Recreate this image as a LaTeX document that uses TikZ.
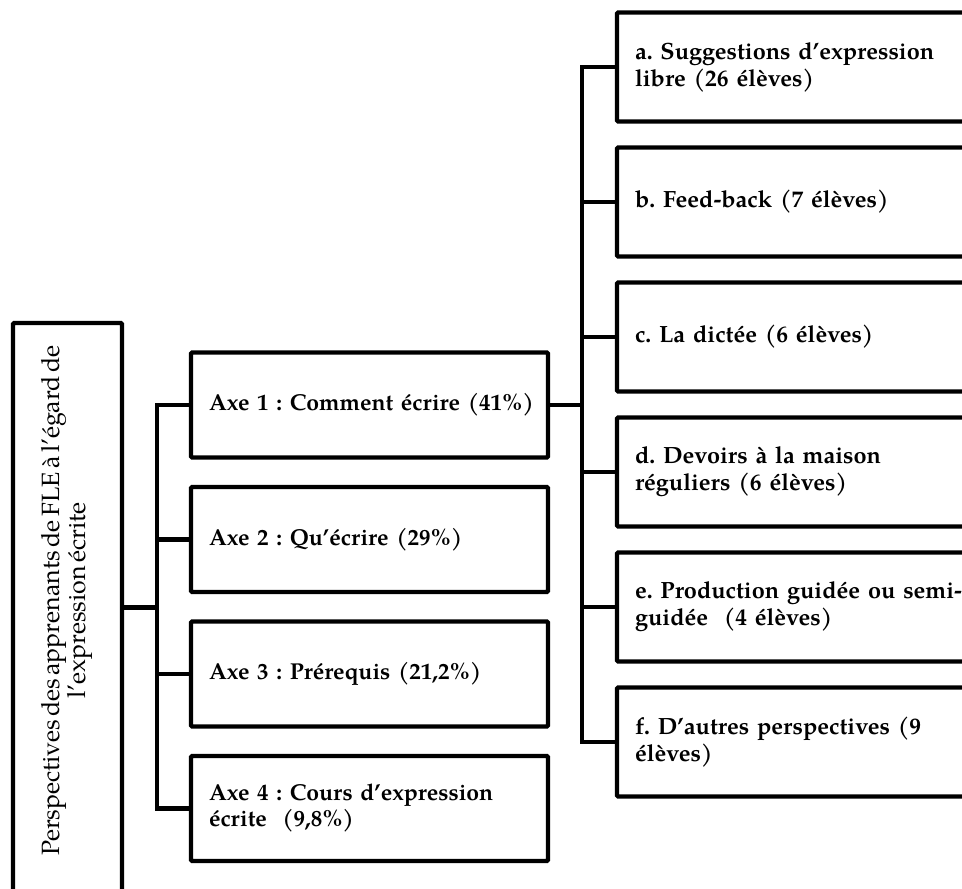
\documentclass[tikz,border=0pt]{standalone}
\usepackage{fontspec}
\setmainfont{texgyrepagella}[Extension=.otf,UprightFont=*-regular,BoldFont=*-bold,ItalicFont=*-italic,BoldItalicFont=*-bolditalic,WordSpace=0.55]
\usetikzlibrary{positioning, calc}
\frenchspacing

\begin{document}
\begin{tikzpicture}[x=1pt,y=-1pt,
    box/.style={draw,line width=4.2pt,rounded corners=1pt,font=\fontsize{23.5}{27}\selectfont\bfseries,
                align=left,inner xsep=18pt,inner ysep=0pt},
    axebox/.style={box,font=\fontsize{23}{26}\selectfont\bfseries,text width=321pt,minimum height=105pt},
    subbox/.style={box,text width=347pt,minimum height=109pt},
    link/.style={line width=4.2pt}]

\useasboundingbox (0,0) rectangle (962,889);
\clip (0,0) rectangle (962,889);

% main box
\node[draw,line width=4.2pt,rounded corners=1pt,minimum width=109pt,minimum height=569pt,inner sep=0pt,
      font=\fontsize{25}{25}\selectfont] (persp) at (67.5,607.5)
      {\rotatebox{90}{\hspace*{14pt}\begin{tabular}{@{}c@{}}Perspectives des apprenants de FLE à l’égard de\\l’expression écrite\end{tabular}}};

% axes
\node[axebox] (axe1) at (369.5,405) {\mbox{Axe 1 : Comment écrire (41\%)}};
\node[axebox] (axe2) at (369.5,539.5) {Axe 2 : Qu’écrire (29\%)};
\node[axebox] (axe3) at (369.5,674) {Axe 3 : Prérequis (21,2\%)};
\node[axebox] (axe4) at (369.5,808.5) {Axe 4 : Cours d’expression\\écrite~~(9,8\%)};

% sous-points de l'axe 1
\node[subbox] (a) at (808.5,67) {a. Suggestions d’expression\\libre (26 élèves)};
\node[subbox] (b) at (808.5,202) {b. Feed-back (7 élèves)};
\node[subbox] (c) at (808.5,337) {c. La dictée (6 élèves)};
\node[subbox] (d) at (808.5,472) {d. Devoirs à la maison\\réguliers (6 élèves)};
\node[subbox] (e) at (808.5,607) {e. Production guidée ou semi-\\guidée~~(4 élèves)};
\node[subbox] (f) at (808.5,742) {f. D’autres perspectives (9\\élèves)};

\coordinate (lbar) at (157,607.5);
\coordinate (rbar) at (582,405);

\foreach \i in {1,...,4}
    \draw[link] (persp.east) -- (lbar) |- (axe\i.west);
\foreach \s in {a,b,c,d,e,f}
    \draw[link] (axe1.east) -- (rbar) |- (\s.west);

\end{tikzpicture}
\end{document}
